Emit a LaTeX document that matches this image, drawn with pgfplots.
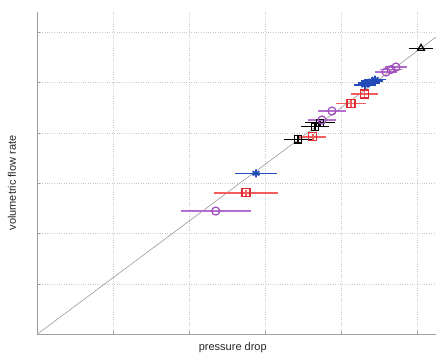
\documentclass[border=0pt]{standalone}
\usepackage{pgfplots}
\pgfplotsset{compat=1.18}
\usepackage{fontspec}
\setmainfont{Liberation Sans}

\definecolor{mred}{RGB}{225,45,50}
\definecolor{mredbar}{RGB}{240,95,95}
\definecolor{mpurple}{RGB}{160,75,190}
\definecolor{mpurplebar}{RGB}{180,110,205}
\definecolor{mblue}{RGB}{35,75,185}
\definecolor{mgridc}{RGB}{200,200,200}

\begin{document}
\begin{tikzpicture}[x=1pt,y=1pt]
\useasboundingbox (-37.5,-20) rectangle (398.5,334);
\begin{axis}[
  at={(0,0)}, anchor=south west,
  scale only axis, width=398.5pt, height=322pt,
  xmin=0, xmax=5.243, ymin=0, ymax=6.402,
  axis x line*=bottom, axis y line*=left,
  axis line style={-, gray!75},
  xtick={0,1,...,5}, ytick={0,1,...,6},
  xticklabels={}, yticklabels={},
  tick align=inside, major tick length=3pt,
  tick style={gray!75},
  grid=major, grid style={dotted, mgridc},
  xlabel={pressure drop}, ylabel={volumetric flow rate},
  label style={font=\fontsize{11}{13}\selectfont, text=black!85},
  xlabel style={at={(axis description cs:0.49,-0.0435)}, anchor=center},
  ylabel style={at={(axis description cs:-0.064,0.469)}, anchor=center},
  error bars/error mark=none,
]
% reference line through the origin
\addplot[gray!80, line width=0.6pt] coordinates {(0,0) (5.243,5.904)};

% black squares
\addplot[only marks, mark=square, mark size=3.6pt,
  mark options={draw=black, line width=1.2pt},
  error bars/x dir=both, error bars/x explicit,
  error bars/y dir=both, error bars/y explicit,
  error bars/error bar style={draw=black, line width=1.5pt}]
  coordinates {
  (3.428,3.871) +- (0.18,0.06)
  (3.651,4.121) +- (0.18,0.06)
  (3.717,4.201) +- (0.20,0.06)
  };

% purple circles
\addplot[only marks, mark=o, mark size=4pt,
  mark options={draw=mpurple, line width=1.2pt},
  error bars/x dir=both, error bars/x explicit,
  error bars/error bar style={draw=mpurplebar, line width=1.6pt}]
  coordinates {
  (2.345,2.445) +- (0.46,0)
  (3.743,4.254) +- (0.18,0)
  (3.875,4.433) +- (0.18,0)
  (4.586,5.209) +- (0.15,0)
  (4.651,5.258) +- (0.15,0)
  (4.717,5.308) +- (0.15,0)
  };

% red squares
\addplot[only marks, mark=square, mark size=4pt,
  mark options={draw=mred, line width=1.2pt},
  error bars/x dir=both, error bars/x explicit,
  error bars/y dir=both, error bars/y explicit,
  error bars/error bar style={draw=mredbar, line width=1.6pt}]
  coordinates {
  (2.743,2.809) +- (0.42,0.06)
  (3.621,3.922) +- (0.18,0.06)
  (4.125,4.583) +- (0.20,0.06)
  (4.303,4.771) +- (0.18,0.06)
  };

% blue stars
\addplot[only marks, mark=asterisk, mark size=4pt,
  mark options={draw=mblue, line width=1.8pt},
  error bars/x dir=both, error bars/x explicit,
  error bars/error bar style={draw=mblue, line width=1.6pt}]
  coordinates {
  (2.875,3.195) +- (0.28,0)
  (4.309,4.950) +- (0.15,0)
  (4.362,4.990) +- (0.15,0)
  (4.401,5.030) +- (0.15,0)
  (4.441,5.060) +- (0.15,0)
  };

% black triangle
\addplot[only marks, mark=triangle, mark size=4pt,
  mark options={draw=black, line width=1.2pt},
  error bars/x dir=both, error bars/x explicit,
  error bars/error bar style={draw=black, line width=1.6pt}]
  coordinates {
  (5.046,5.680) +- (0.16,0)
  };
\end{axis}
\end{tikzpicture}
\end{document}
